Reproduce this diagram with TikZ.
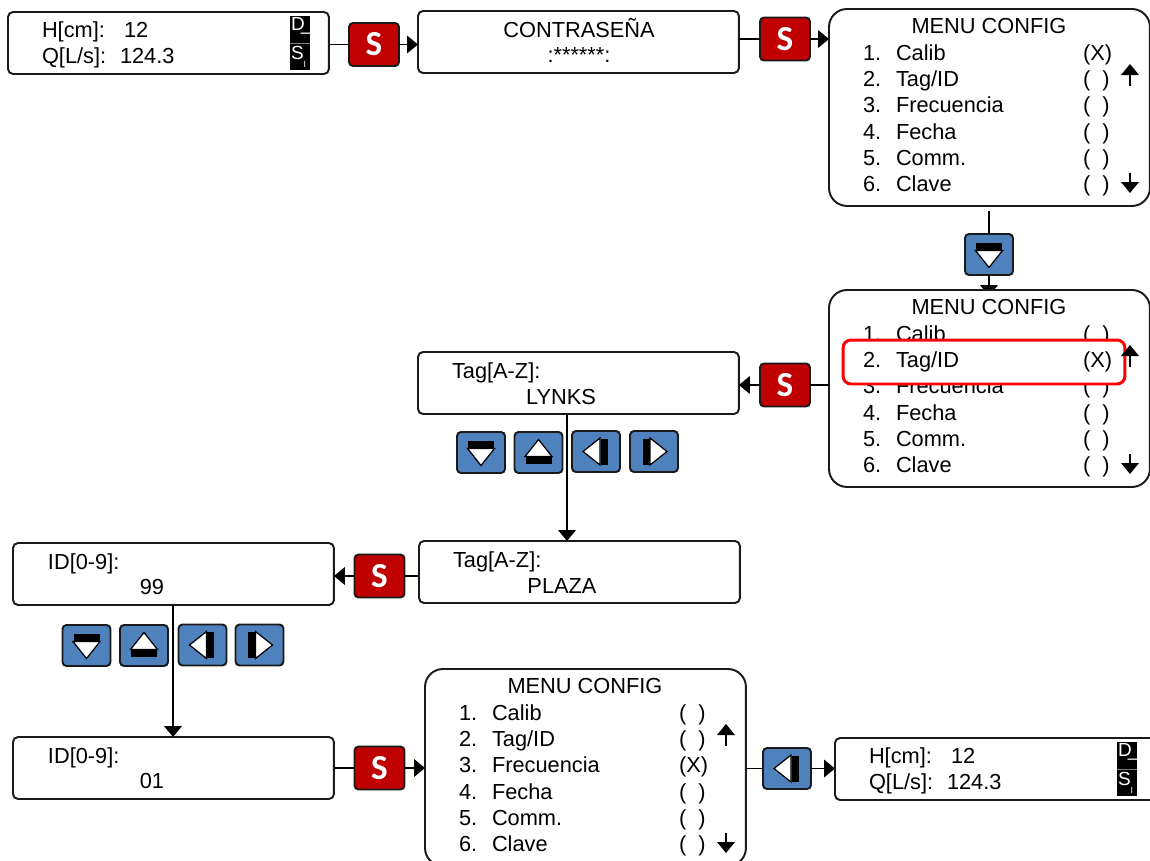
\documentclass[tikz,border=0pt]{standalone}
\usepackage{fontspec}
\setmainfont{Liberation Sans}
\newfontfamily\keyfont{Carlito}
\usetikzlibrary{arrows.meta}

\definecolor{keyred}{HTML}{C00000}
\definecolor{keyblue}{HTML}{4F81BD}
\definecolor{edgedark}{HTML}{1A1A1A}

\tikzset{
  lcdbox/.style={draw=edgedark,line width=1.1pt,fill=white,anchor=north west,inner sep=0,outer sep=0,
    minimum width=6.42cm,minimum height=1.24cm,rounded corners=.1cm},
  menubox/.style={draw=edgedark,line width=1.1pt,fill=white,anchor=north west,inner sep=0,outer sep=0,
    minimum width=6.42cm,minimum height=3.94cm,rounded corners=.36cm},
  redkey/.style={draw=edgedark,line width=1.1pt,fill=keyred,text=white,inner sep=0,outer sep=0,
    minimum width=1cm,minimum height=.86cm,rounded corners=.08cm,font=\keyfont\bfseries\fontsize{20}{20}\selectfont},
  bluekey/.style={draw=edgedark,line width=1.1pt,fill=keyblue,inner sep=0,outer sep=0,
    minimum width=.96cm,minimum height=.82cm,rounded corners=.08cm},
  txt/.style={inner sep=0,outer sep=0,anchor=base west,font=\fontsize{12.4}{14}\selectfont},
  flagbox/.style={fill=black,anchor=north west,inner sep=0,outer sep=0,minimum width=.4cm,minimum height=1.08cm},
  flagtxt/.style={inner sep=0,outer sep=0,anchor=base west,text=white,font=\fontsize{10.8}{12}\selectfont},
  link/.style={line width=.85pt,draw=black},
  flow/.style={link,-{Triangle[length=6.2pt,width=10pt]}},
  pics/keyicon/.style={code={
    \fill[black] (-13,-11.5) rectangle (13,-4.5);
    \draw[fill=white,line width=.7pt] (-13.5,-4) -- (13.5,-4) -- (0,13) -- cycle;
  }},
  pics/scrollup/.style={code={
    \draw[line width=1pt] (0,7) -- (0,-5);
    \fill (-9,-4) -- (9,-4) -- (0,-15) -- cycle;
  }},
  pics/scrolldown/.style={code={
    \draw[line width=1pt] (0,-11) -- (0,1);
    \fill (-9,-2) -- (9,-2) -- (0,9) -- cycle;
  }},
}

% reading screen: name, left, top
\newcommand{\readingscreen}[3]{
  \node[lcdbox] (#1) at (#2,#3) {};
  \node[txt] (#1-h) at (#2+34,#3+25) {H[cm]:};
  \node[txt] (#1-hv) at (#2+116,#3+25) {12};
  \node[txt] (#1-q) at (#2+34,#3+51) {Q[L/s]:};
  \node[txt] (#1-qv) at (#2+112,#3+51) {124.3};
  \node[flagbox] (#1-flag) at (#2+282,#3+4) {};
  \draw[gray,line width=.5pt] (#2+282,#3+31) -- (#2+302,#3+31);
  \node[flagtxt] (#1-d) at (#2+283,#3+18.5) {D\kern-.2em\_};
  \node[flagtxt] (#1-s) at (#2+283,#3+47) {S\raisebox{-5pt}{\fontsize{5}{5}\selectfont I}};
}

% menu screen: name, left, top, checked row, drawn just before row 2
\newcommand{\menuscreen}[5]{
  \node[menubox] (#1) at (#2,#3) {};
  \node[txt,anchor=base] (#1-head) at (#2+160,#3+24) {MENU CONFIG};
  \foreach \n/\lab/\off in {1/Calib/51,3/Frecuencia/103,4/Fecha/130,5/Comm./156,6/Clave/182,2/Tag\slash ID/77}{
    \ifnum\n=2 #5\fi
    \node[txt] (#1-num\n) at (#2+34,#3+\off) {\n.};
    \node[txt] (#1-lab\n) at (#2+67,#3+\off) {\lab};
    \node[txt] (#1-box\n) at (#2+254,#3+\off) {\ifnum\n=#4 (X)\else(\ \ )\fi};
  }
  \pic at (#2+301,#3+70) {scrollup};
  \pic at (#2+301,#3+175) {scrolldown};
}

\begin{document}
\begin{tikzpicture}[x=.02cm,y=-.02cm]
\useasboundingbox (0,0) rectangle (1150,860);
\clip (0,0) rectangle (1150,860);

% first row
\readingscreen{lcdA}{8}{12}
\node[lcdbox] (lcdB) at (418,11) {};
\node[txt,anchor=base] (lcdB-a) at (579,37) {CONTRASEÑA};
\node[txt,anchor=base] (lcdB-b) at (579,62) {:******:};
\menuscreen{menuA}{829}{9}{1}{}
\node[redkey] (keyA) at (374,44.5) {S};
\node[redkey] (keyB) at (785,39) {S};
\draw[link] (lcdA.east |- keyA) -- (keyA);
\draw[flow] (keyA) -- (lcdB.west |- keyA);
\draw[link] (lcdB.east |- keyB) -- (keyB);
\draw[flow] (keyB) -- (menuA.west |- keyB);

% down to the second menu
\node[bluekey] (keyC) at (989,254.5) {};
\pic at (keyC) {keyicon};
\coordinate (stubC) at (989,211);
\coordinate (tipC) at (989,296);
\draw[link] (stubC) -- (keyC);
\draw[flow] (keyC) -- (tipC);
\menuscreen{menuB}{829}{290}{2}{
  \node[draw=red,line width=1.7pt,fill=white,rounded corners=.16cm,inner sep=0,
    minimum width=5.64cm,minimum height=.88cm] (rowmark) at (984,362) {};
}

% tag entry
\node[redkey] (keyD) at (785,385) {S};
\node[lcdbox] (lcdC) at (418,352) {};
\node[txt] (lcdC-a) at (452,378) {Tag[A-Z]:};
\node[txt,anchor=base] (lcdC-b) at (561,404) {LYNKS};
\draw[link] (menuB.west |- keyD) -- (keyD);
\draw[flow] (keyD) -- (lcdC.east |- keyD);
\node[lcdbox] (lcdD) at (419,541) {};
\node[txt] (lcdD-a) at (453,567) {Tag[A-Z]:};
\node[txt,anchor=base] (lcdD-b) at (562,593) {PLAZA};
\coordinate (dropC) at (567,414);
\draw[flow] (dropC) -- (dropC |- lcdD.north);
\node[bluekey] (keyC1) at (481,452.5) {};
\node[bluekey] (keyC2) at (538.5,452.5) {};
\node[bluekey] (keyC3) at (596,451.5) {};
\node[bluekey] (keyC4) at (654,451.5) {};
\pic at (keyC1) {keyicon};
\pic[rotate=180] at (keyC2) {keyicon};
\pic[rotate=-90] at (keyC3) {keyicon};
\pic[rotate=90] at (keyC4) {keyicon};

% id entry
\node[redkey] (keyE) at (379.5,576) {S};
\node[lcdbox] (lcdE) at (13,543) {};
\node[txt] (lcdE-a) at (48,569) {ID[0-9]:};
\node[txt,anchor=base] (lcdE-b) at (152,594) {99};
\draw[link] (lcdD.west |- keyE) -- (keyE);
\draw[flow] (keyE) -- (lcdE.east |- keyE);
\node[lcdbox] (lcdF) at (13,737) {};
\node[txt] (lcdF-a) at (48,763) {ID[0-9]:};
\node[txt,anchor=base] (lcdF-b) at (152,788) {01};
\coordinate (dropE) at (173,605);
\draw[flow] (dropE) -- (dropE |- lcdF.north);
\node[bluekey] (keyE1) at (86.5,645.5) {};
\node[bluekey] (keyE2) at (144,645.5) {};
\node[bluekey] (keyE3) at (202.5,645) {};
\node[bluekey] (keyE4) at (259.5,645) {};
\pic at (keyE1) {keyicon};
\pic[rotate=180] at (keyE2) {keyicon};
\pic[rotate=-90] at (keyE3) {keyicon};
\pic[rotate=90] at (keyE4) {keyicon};

% last row
\menuscreen{menuC}{425}{669}{3}{}
\readingscreen{lcdG}{835}{738}
\node[redkey] (keyF) at (379.5,768) {S};
\node[bluekey] (keyG) at (787,768.5) {};
\pic[rotate=-90] at (keyG) {keyicon};
\draw[link] (lcdF.east |- keyF) -- (keyF);
\draw[flow] (keyF) -- (menuC.west |- keyF);
\draw[link] (menuC.east |- keyG) -- (keyG);
\draw[flow] (keyG) -- (lcdG.west |- keyG);
\end{tikzpicture}
\end{document}
